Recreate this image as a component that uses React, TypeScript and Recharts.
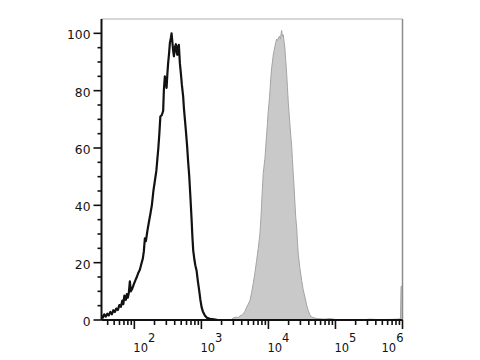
import React from "react";
import { ComposedChart, Line, Area, XAxis, YAxis, ReferenceLine } from "recharts";

// Black (unstained / isotype) histogram: x = log10(fluorescence), y = % of max
const blackLog = [
  1.51, 1.53, 1.552, 1.575, 1.597, 1.619, 1.642, 1.664, 1.687, 1.709, 1.731, 1.754, 1.776, 1.799, 1.821,
  1.836, 1.851, 1.873, 1.888, 1.903, 1.918, 1.933, 1.948, 1.97, 1.993, 2.015, 2.037, 2.06, 2.082, 2.104,
  2.127, 2.142, 2.157, 2.172, 2.194, 2.216, 2.239, 2.261, 2.284, 2.306, 2.328, 2.343, 2.358, 2.373, 2.388,
  2.41, 2.43, 2.44, 2.455, 2.47, 2.481, 2.493, 2.504, 2.518, 2.53, 2.545, 2.555, 2.567, 2.579, 2.59,
  2.604, 2.619, 2.634, 2.642, 2.654, 2.664, 2.679, 2.694, 2.709, 2.728, 2.739, 2.754, 2.769, 2.788, 2.803,
  2.818, 2.836, 2.854, 2.866, 2.878, 2.896, 2.91, 2.928, 2.948, 2.967, 2.985, 3.003, 3.022, 3.052, 3.082,
  3.127, 3.187, 3.246, 3.45,
];
const blackCount = [
  1.5, 0.8, 2.0, 1.2, 2.2, 1.6, 2.8, 2.0, 3.4, 2.8, 4.0, 3.5, 5.2, 4.6, 6.8,
  5.5, 8.5, 7.0, 9.0, 7.8, 9.5, 13.5, 10.0, 11.0, 12.5, 13.8, 15.0, 16.5, 17.5, 19.5,
  21.5, 24.0, 28.5, 27.5, 31.0, 34.0, 37.0, 40.0, 45.0, 48.5, 52.0, 56.0, 60.0, 65.0, 71.0,
  71.5, 73.0, 80.0, 85.0, 83.0, 81.0, 86.0, 89.6, 93.0, 96.6, 98.5, 100.0, 97.0, 94.0, 92.0,
  95.0, 96.2, 93.0, 92.5, 95.5, 96.0, 89.6, 86.0, 82.0, 78.0, 74.0, 70.0, 66.0, 60.4, 55.0,
  50.5, 43.0, 35.0, 29.0, 24.3, 21.0, 19.0, 17.3, 13.5, 10.3, 7.0, 4.5, 3.0, 1.6, 0.8,
  0.4, 0.2, 0.0, 0.0,
];

// Grey (stained) histogram
const grayLog = [
  3.451, 3.485, 3.525, 3.552, 3.575, 3.597, 3.624, 3.649, 3.675, 3.699, 3.724, 3.749, 3.773, 3.799, 3.824,
  3.848, 3.873, 3.888, 3.899, 3.91, 3.922, 3.936, 3.948, 3.96, 3.973, 3.985, 3.997, 4.01, 4.022, 4.034,
  4.048, 4.06, 4.072, 4.085, 4.097, 4.112, 4.122, 4.137, 4.149, 4.164, 4.179, 4.19, 4.197, 4.209, 4.221,
  4.234, 4.246, 4.258, 4.272, 4.284, 4.296, 4.309, 4.321, 4.333, 4.346, 4.358, 4.37, 4.384, 4.396, 4.407,
  4.421, 4.433, 4.445, 4.47, 4.496, 4.519, 4.545, 4.57, 4.594, 4.619, 4.645, 4.679, 4.719, 4.769, 4.843,
  4.918, 4.993, 5.067, 5.216, 5.366, 5.515, 5.664, 5.813, 5.933, 5.97, 5.978, 6.0,
];
const grayCount = [
  0.3, 0.8, 1.0, 0.8, 1.5, 1.6, 2.2, 3.0, 4.5, 5.5, 6.8, 9.5, 12.7, 16.5, 20.8,
  25.0, 30.0, 35.5, 40.7, 46.0, 51.0, 54.0, 56.4, 60.5, 64.5, 68.5, 72.7, 76.0, 79.6, 84.0,
  88.0, 90.0, 92.5, 94.0, 95.5, 97.0, 98.0, 97.5, 98.5, 99.0, 98.0, 100.0, 101.0, 99.0, 99.5,
  97.0, 94.8, 90.5, 86.0, 81.0, 76.0, 72.0, 68.0, 64.5, 61.0, 56.0, 51.0, 46.0, 40.6, 36.0,
  32.4, 27.5, 23.0, 18.0, 13.8, 10.5, 8.0, 5.2, 3.3, 1.8, 1.0, 0.8, 0.5, 0.4, 0.3,
  0.5, 0.2, 0.1, 0.1, 0.0, 0.3, 0.1, 0.2, 0.3, 0.5, 11.7, 11.7,
];

// Axis definitions
const xDomain: [number, number] = [1.51, 6];
const xMajorExponents = [2, 3, 4, 5, 6];
const xMinorMultipliers = [2, 3, 4, 5, 6, 7, 8, 9];
const xMinorDecades = [1, 2, 3, 4, 5];
const yMajorTicks = [0, 20, 40, 60, 80, 100];
const yMinorStep = 5;
const yMax = 105;

const blackData = blackLog.map((x, i) => ({ x, v: blackCount[i] }));
const grayData = grayLog.map((x, i) => ({ x, v: grayCount[i] }));

const xTicks: number[] = [];
xMinorDecades.forEach((d) =>
  xMinorMultipliers.forEach((m) => {
    const t = d + Math.log10(m);
    if (t >= xDomain[0] && t <= xDomain[1]) xTicks.push(t);
  })
);
xMajorExponents.forEach((e) => xTicks.push(e));
xTicks.sort((a, b) => a - b);

const yTicks: number[] = [];
for (let v = 0; v <= 100; v += yMinorStep) yTicks.push(v);

const FONT = "DejaVu Sans";

const XTick = (props: any) => {
  const { x, y, payload } = props;
  const v = payload.value as number;
  const major = xMajorExponents.some((e) => Math.abs(e - v) < 1e-6);
  const last = Math.abs(v - xDomain[1]) < 1e-6;
  return (
    <g>
      <line x1={x} x2={x} y1={y} y2={y + (major ? 9 : 5)} stroke="#111" strokeWidth={1.6} />
      {major && (
        <text
          x={last ? x + 1 : x - 1}
          y={y + 32}
          textAnchor={last ? "end" : "start"}
          fontFamily={FONT}
          fontSize={11.5}
          fill="#111"
        >
          10
          <tspan dy={-10}>{Math.round(v)}</tspan>
        </text>
      )}
    </g>
  );
};

const YTick = (props: any) => {
  const { x, y, payload } = props;
  const v = payload.value as number;
  const major = yMajorTicks.includes(v);
  return (
    <g>
      <line x1={x - (major ? 8 : 4)} x2={x} y1={y} y2={y} stroke="#111" strokeWidth={1.6} />
      {major && (
        <text x={x - 11} y={y + 6} textAnchor="end" fontFamily={FONT} fontSize={12.3} fill="#111">
          {v}
        </text>
      )}
    </g>
  );
};

export default function App() {
  return (
    <div style={{ position: "absolute", left: 0, top: 0, background: "#fff" }}>
      <ComposedChart width={480} height={360} margin={{ top: 19, right: 77.5, bottom: 0, left: 0 }}>
        <XAxis
          type="number"
          dataKey="x"
          domain={xDomain}
          allowDataOverflow
          ticks={xTicks}
          interval={0}
          tickSize={0}
          tickMargin={0}
          tickLine={false}
          tick={<XTick />}
          height={40}
          axisLine={{ stroke: "#111", strokeWidth: 2 }}
        />
        <YAxis
          type="number"
          domain={[0, yMax]}
          allowDataOverflow
          ticks={yTicks}
          interval={0}
          tickSize={0}
          tickMargin={0}
          tickLine={false}
          tick={<YTick />}
          width={101.5}
          axisLine={{ stroke: "#111", strokeWidth: 2 }}
        />
        <ReferenceLine y={yMax} stroke="#b0b0b0" strokeWidth={1.2} />
        <ReferenceLine x={xDomain[1]} stroke="#8c8c8c" strokeWidth={1.5} />
        <Area
          data={grayData}
          dataKey="v"
          type="linear"
          stroke="#a4a4a4"
          strokeWidth={1}
          fill="#c9c9c9"
          fillOpacity={1}
          isAnimationActive={false}
          dot={false}
          activeDot={false}
        />
        <Line
          data={blackData}
          dataKey="v"
          type="linear"
          stroke="#111"
          strokeWidth={2.2}
          strokeLinejoin="round"
          dot={false}
          activeDot={false}
          isAnimationActive={false}
        />
      </ComposedChart>
    </div>
  );
}
